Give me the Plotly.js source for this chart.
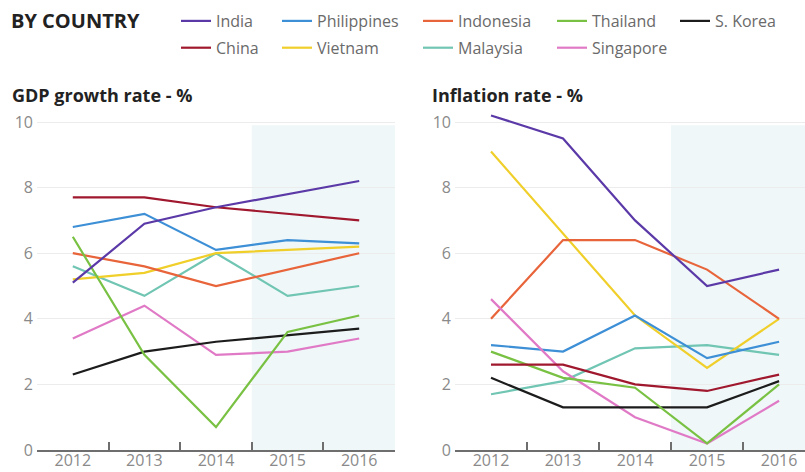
<!DOCTYPE html>
<html>
<head>
<meta charset="utf-8">
<script src="https://cdn.plot.ly/plotly-3.0.1.min.js"></script>
<style>html,body{margin:0;padding:0;background:#fff;}#chart{width:805px;height:472px;}</style>
</head>
<body>
<div id="chart"></div>
<script>
// ---- Data ----
const years = ['2012', '2013', '2014', '2015', '2016'];
const countries = ['India', 'China', 'Philippines', 'Vietnam', 'Indonesia', 'Malaysia', 'Thailand', 'Singapore', 'S. Korea'];

const gdpIndia       = [5.1, 6.9, 7.4, 7.8, 8.2];
const gdpChina       = [7.7, 7.7, 7.4, 7.2, 7.0];
const gdpPhilippines = [6.8, 7.2, 6.1, 6.4, 6.3];
const gdpVietnam     = [5.2, 5.4, 6.0, 6.1, 6.2];
const gdpIndonesia   = [6.0, 5.6, 5.0, 5.5, 6.0];
const gdpMalaysia    = [5.6, 4.7, 6.0, 4.7, 5.0];
const gdpThailand    = [6.5, 2.9, 0.7, 3.6, 4.1];
const gdpSingapore   = [3.4, 4.4, 2.9, 3.0, 3.4];
const gdpKorea       = [2.3, 3.0, 3.3, 3.5, 3.7];

const infIndia       = [10.2, 9.5, 7.0, 5.0, 5.5];
const infChina       = [2.6, 2.6, 2.0, 1.8, 2.3];
const infPhilippines = [3.2, 3.0, 4.1, 2.8, 3.3];
const infVietnam     = [9.1, 6.6, 4.1, 2.5, 4.0];
const infIndonesia   = [4.0, 6.4, 6.4, 5.5, 4.0];
const infMalaysia    = [1.7, 2.1, 3.1, 3.2, 2.9];
const infThailand    = [3.0, 2.2, 1.9, 0.2, 2.0];
const infSingapore   = [4.6, 2.4, 1.0, 0.2, 1.5];
const infKorea       = [2.2, 1.3, 1.3, 1.3, 2.1];

const yTicks = [0, 2, 4, 6, 8, 10];

// ---- Styles ----
const gdpSeries = [gdpIndia, gdpChina, gdpPhilippines, gdpVietnam, gdpIndonesia, gdpMalaysia, gdpThailand, gdpSingapore, gdpKorea];
const infSeries = [infIndia, infChina, infPhilippines, infVietnam, infIndonesia, infMalaysia, infThailand, infSingapore, infKorea];
const colors = ['#5b3aa8', '#a0182e', '#3d8fd6', '#f0cf2a', '#e8643a', '#70c5b3', '#79c143', '#e07ac6', '#1c1c1c'];
const legendOf = ['legend', 'legend', 'legend2', 'legend2', 'legend3', 'legend3', 'legend4', 'legend4', 'legend5'];
const drawOrder = [5, 3, 4, 2, 7, 8, 6, 1, 0];

const traces = [];
drawOrder.forEach(i => {
  traces.push({
    x: years, y: gdpSeries[i], name: countries[i], type: 'scatter', mode: 'lines',
    line: {color: colors[i], width: 2.2}, xaxis: 'x', yaxis: 'y',
    legend: legendOf[i], legendgroup: countries[i], legendrank: i + 1,
    showlegend: true, hoverinfo: 'x+y+name'
  });
});
drawOrder.forEach(i => {
  traces.push({
    x: years, y: infSeries[i], name: countries[i], type: 'scatter', mode: 'lines',
    line: {color: colors[i], width: 2.2}, xaxis: 'x2', yaxis: 'y2',
    legend: legendOf[i], legendgroup: countries[i], legendrank: i + 1,
    showlegend: false, hoverinfo: 'x+y+name'
  });
});

const W = 805, H = 472;
const px = v => v / W;
const py = v => (H - v) / H;
const y0px = 450, y10px = 122;
const perUnit = (y0px - y10px) / 10;
const yMax = 10.5;
const yDomain = [py(y0px), py(y0px - yMax * perUnit)];

const tickFont = {family: 'Open Sans, sans-serif', size: 16, color: '#8a8a8a'};

const xaxisBase = {
  type: 'category', categoryorder: 'array', categoryarray: years,
  showgrid: false, zeroline: false, showline: true, linecolor: '#6e6e6e', linewidth: 1.5,
  ticks: 'inside', ticklen: 8, tickwidth: 1.5, tickcolor: '#6e6e6e', tickson: 'boundaries',
  tickfont: tickFont, automargin: false, fixedrange: true, ticklabelstandoff: -5
};
const yaxisBase = {
  range: [0, yMax], tickvals: yTicks, showgrid: true, gridcolor: '#ececec', gridwidth: 1,
  zeroline: false, showline: false, ticks: '', tickfont: tickFont, automargin: false,
  fixedrange: true, ticklabelstandoff: 3
};

const legendBase = {
  orientation: 'v', xanchor: 'left', yanchor: 'top', bgcolor: 'rgba(0,0,0,0)',
  font: {family: 'Open Sans, sans-serif', size: 16, color: '#6a6a6a'},
  traceorder: 'grouped', tracegroupgap: 3, itemclick: false, itemdoubleclick: false
};
const legendX = [176, 277, 418, 552, 675];
const mkLegend = k => Object.assign({}, legendBase, {x: px(legendX[k]), y: py(4)});

const layout = {
  width: W, height: H,
  margin: {l: 0, r: 0, t: 0, b: 0},
  paper_bgcolor: '#ffffff', plot_bgcolor: 'rgba(0,0,0,0)',
  xaxis: Object.assign({}, xaxisBase, {domain: [px(37), px(395)], range: [-0.5, 4.5], anchor: 'y'}),
  yaxis: Object.assign({}, yaxisBase, {domain: yDomain, anchor: 'x'}),
  xaxis2: Object.assign({}, xaxisBase, {domain: [px(455), 1], range: [-0.5, 4.36], anchor: 'y2'}),
  yaxis2: Object.assign({}, yaxisBase, {domain: yDomain, anchor: 'x2'}),
  legend: mkLegend(0), legend2: mkLegend(1), legend3: mkLegend(2), legend4: mkLegend(3), legend5: mkLegend(4),
  shapes: [
    {type: 'rect', xref: 'x', yref: 'y', x0: 2.5, x1: 4.5, y0: 0, y1: 9.9,
     fillcolor: '#eff7f8', line: {width: 0}, layer: 'below'},
    {type: 'rect', xref: 'x2', yref: 'y2', x0: 2.5, x1: 4.36, y0: 0, y1: 9.9,
     fillcolor: '#eff7f8', line: {width: 0}, layer: 'below'}
  ],
  annotations: [
    {text: '<b>BY COUNTRY</b>', xref: 'paper', yref: 'paper', x: px(9), y: py(21),
     xanchor: 'left', yanchor: 'middle', showarrow: false,
     font: {family: 'Open Sans, sans-serif', size: 20, color: '#222'}},
    {text: '<b>GDP growth rate - %</b>', xref: 'paper', yref: 'paper', x: px(10), y: py(95),
     xanchor: 'left', yanchor: 'middle', showarrow: false,
     font: {family: 'Open Sans, sans-serif', size: 18, color: '#222'}},
    {text: '<b>Inflation rate - %</b>', xref: 'paper', yref: 'paper', x: px(430), y: py(95),
     xanchor: 'left', yanchor: 'middle', showarrow: false,
     font: {family: 'Open Sans, sans-serif', size: 18, color: '#222'}}
  ],
  hovermode: 'closest'
};

Plotly.newPlot('chart', traces, layout, {displayModeBar: false});
</script>
</body>
</html>
